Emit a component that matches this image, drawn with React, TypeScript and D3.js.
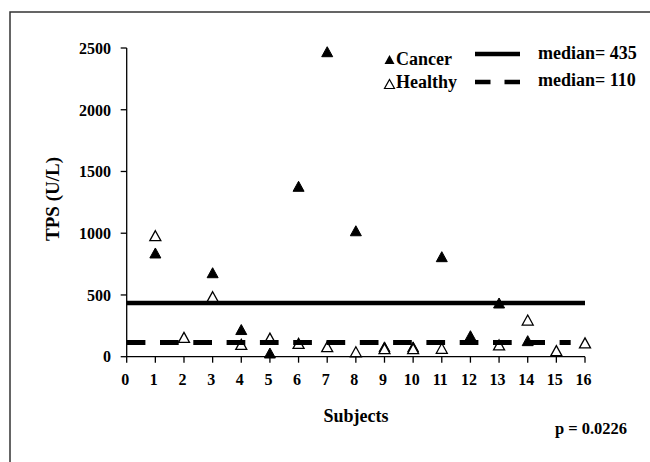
import React from 'react';
import * as d3 from 'd3';

// TPS values
const cancerSubjects = [1, 3, 4, 5, 6, 7, 8, 9, 10, 11, 12, 13, 14];
const cancerValues = [840, 680, 220, 30, 1380, 2470, 1020, 80, 80, 810, 170, 435, 130];
const healthySubjects = [1, 2, 3, 4, 5, 6, 7, 8, 9, 10, 11, 13, 14, 15, 16];
const healthyValues = [980, 157, 486, 100, 150, 108, 81, 40, 65, 65, 68, 95, 297, 49, 112];
const medianCancer = 435;
const medianHealthy = 115;
const xTicks = d3.range(0, 17);
const yTicks = [0, 500, 1000, 1500, 2000, 2500];

const font = '"Liberation Serif", "Times New Roman", serif';

// triangle marker, centred on its box
function tri(cx: number, cy: number, w = 11, h = 10) {
  const p = d3.path();
  p.moveTo(cx, cy - h / 2);
  p.lineTo(cx + w / 2, cy + h / 2);
  p.lineTo(cx - w / 2, cy + h / 2);
  p.closePath();
  return p.toString();
}

export default function App() {
  const x = d3.scaleLinear().domain([0, 16]).range([126.7, 585]);
  const y = d3.scaleLinear().domain([0, 2500]).range([356.7, 48]);

  const cancer = cancerSubjects.map((s, i) => ({ s, v: cancerValues[i] }));
  const healthy = healthySubjects.map((s, i) => ({ s, v: healthyValues[i] }));

  const line = d3.line<number>().x(d => x(d)).y(() => 0);
  const y0 = y(0);

  return (
    <svg width={650} height={462}
      style={{ position: 'absolute', left: 0, top: 0, background: '#fff', fontFamily: font, fontWeight: 'bold' }}>
      {/* frame */}
      <path d="M10,462 V12 H650" fill="none" stroke="#333" strokeWidth={1.5} />

      {/* y axis */}
      <line x1={x(0)} x2={x(0)} y1={y(2500)} y2={y0} stroke="#000" strokeWidth={1.3} />
      {yTicks.map(t => (
        <g key={t}>
          <line x1={x(0) - 6} x2={x(0)} y1={y(t)} y2={y(t)} stroke="#000" strokeWidth={1.3} />
          <text x={111} y={y(t)} dy="0.36em" textAnchor="end" fontSize={16}>{t}</text>
        </g>
      ))}

      {/* x axis */}
      <line x1={x(0)} x2={x(16)} y1={y0} y2={y0} stroke="#000" strokeWidth={1.3} />
      {xTicks.map(t => (
        <g key={t}>
          <line x1={x(t)} x2={x(t)} y1={y0} y2={y0 + 6} stroke="#000" strokeWidth={1.3} />
          <text x={x(t) - 1.5} y={384.5} textAnchor="middle" fontSize={16}>{t}</text>
        </g>
      ))}

      <text x={356} y={421.5} textAnchor="middle" fontSize={18}>Subjects</text>
      <text x={591} y={434} textAnchor="middle" fontSize={16.5}>p = 0.0226</text>
      <text transform={`translate(59,199) rotate(-90)`} textAnchor="middle" fontSize={19}>TPS (U/L)</text>

      {/* markers */}
      {cancer.map(d => (
        <path key={'c' + d.s} d={tri(x(d.s), y(d.v))} fill="#000" stroke="#000" strokeWidth={1} />
      ))}
      {healthy.map(d => (
        <path key={'h' + d.s} d={tri(x(d.s), y(d.v))} fill="#fff" stroke="#000" strokeWidth={1.3} />
      ))}

      {/* median lines */}
      <path d={line([0, 16]) ?? ''} transform={`translate(0,${y(medianCancer)})`} stroke="#000" strokeWidth={4.5} fill="none" />
      <path d={line([0, 15.5]) ?? ''} transform={`translate(0,${y(medianHealthy)})`} stroke="#000" strokeWidth={4.8}
        strokeDasharray="18.7 14.6" fill="none" />

      {/* legend */}
      <path d={tri(389.5, 59.5, 10, 9)} fill="#000" />
      <text x={396} y={65} fontSize={18}>Cancer</text>
      <path d={tri(389.5, 84, 10, 9)} fill="#fff" stroke="#000" strokeWidth={1.2} />
      <text x={396} y={87.5} fontSize={18}>Healthy</text>
      <line x1={475} x2={520} y1={54} y2={54} stroke="#000" strokeWidth={4.5} />
      <line x1={475} x2={520} y1={82} y2={82} stroke="#000" strokeWidth={4.5} strokeDasharray="15.5 14" />
      <text x={538} y={58.5} fontSize={18}>median= 435</text>
      <text x={538} y={85.5} fontSize={18}>median= 110</text>
    </svg>
  );
}
